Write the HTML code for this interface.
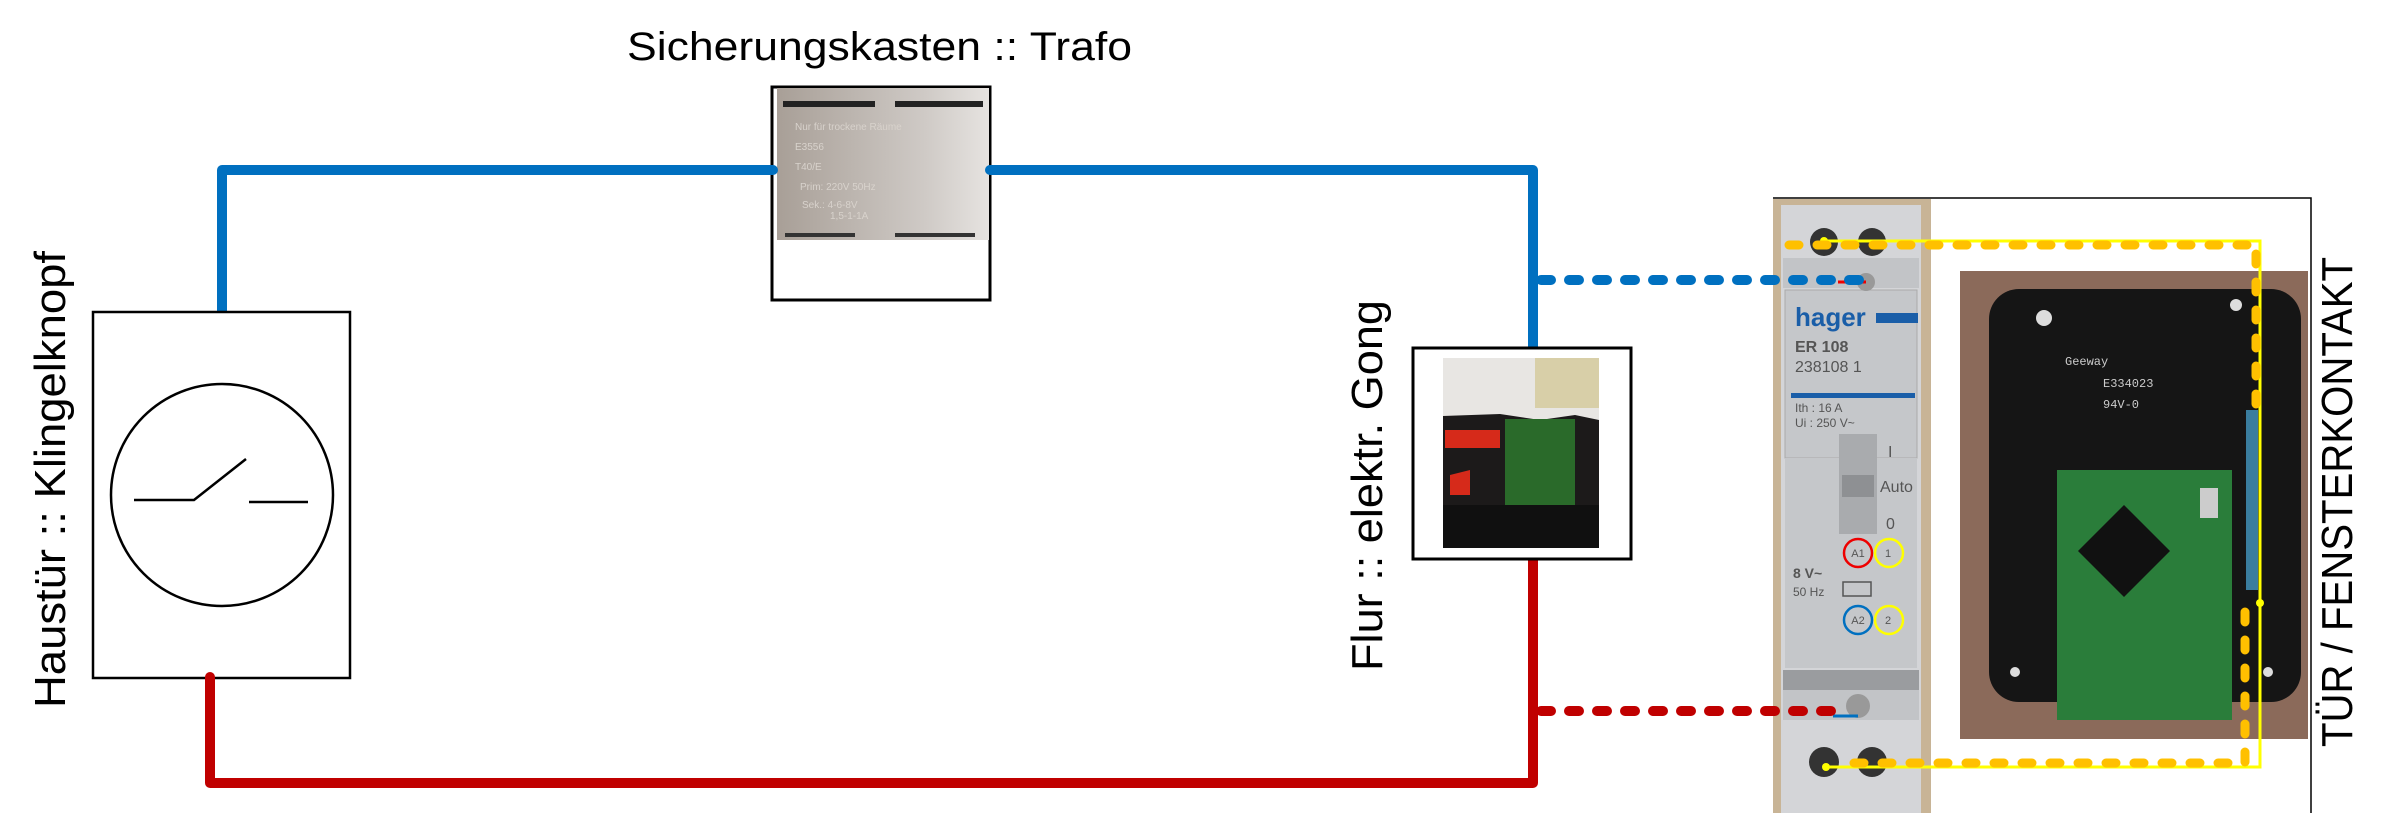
<!DOCTYPE html>
<html><head><meta charset="utf-8"><style>html,body{margin:0;padding:0;background:#fff}svg{display:block}</style></head>
<body>
<svg width="2388" height="813" viewBox="0 0 2388 813" xmlns="http://www.w3.org/2000/svg" font-family="Liberation Sans, DejaVu Sans, sans-serif">
<rect width="2388" height="813" fill="#fff"/>
<!-- Title -->
<text x="627" y="60" font-size="40" textLength="505" lengthAdjust="spacingAndGlyphs" fill="#000">Sicherungskasten :: Trafo</text>
<!-- Trafo box -->
<rect x="772" y="87" width="218" height="213" fill="#fff" stroke="#000" stroke-width="3"/>
<defs>
<linearGradient id="tg" x1="0" x2="1"><stop offset="0" stop-color="#a89f97"/><stop offset="0.7" stop-color="#cfcac6"/><stop offset="1" stop-color="#e6e3e0"/></linearGradient>
</defs>
<rect x="777" y="88" width="212" height="152" fill="url(#tg)"/>
<rect x="783" y="101" width="92" height="6" fill="#222"/><rect x="895" y="101" width="88" height="6" fill="#222"/>
<rect x="785" y="233" width="70" height="4" fill="#333"/><rect x="895" y="233" width="80" height="4" fill="#333"/>
<g fill="#d8d2cc" font-size="10"><text x="795" y="130">Nur für trockene Räume</text><text x="795" y="150">E3556</text><text x="795" y="170">T40/E</text><text x="800" y="190">Prim: 220V 50Hz</text><text x="802" y="208">Sek.: 4-6-8V</text><text x="830" y="219">1,5-1-1A</text></g>
<!-- Blue wire -->
<path d="M222 313 V170 H773 M990 170 H1533 V350" fill="none" stroke="#0070c0" stroke-width="10" stroke-linecap="round" stroke-linejoin="round"/>
<!-- Left box -->
<rect x="93" y="312" width="257" height="366" fill="#fff" stroke="#000" stroke-width="2.5"/>
<ellipse cx="222" cy="495" rx="111" ry="111" fill="none" stroke="#000" stroke-width="2.5"/>
<path d="M134 500 H194 L246 459 M249 502 H308" fill="none" stroke="#000" stroke-width="2.5"/>
<text transform="translate(65,708) rotate(-90)" font-size="44" textLength="457" lengthAdjust="spacingAndGlyphs" fill="#000">Haustür :: Klingelknopf</text>
<!-- Red wire -->
<path d="M210 677 V783 H1533 V560" fill="none" stroke="#c00000" stroke-width="10" stroke-linecap="round" stroke-linejoin="round"/>
<!-- Gong box -->
<rect x="1413" y="348" width="218" height="211" fill="#fff" stroke="#000" stroke-width="3"/>
<rect x="1443" y="358" width="156" height="190" fill="#1c1a1a"/>
<path d="M1443 358 H1599 V420 L1575 415 L1540 420 L1500 414 L1443 416 Z" fill="#e8e6e3"/>
<rect x="1535" y="358" width="64" height="50" fill="#d8cfa8"/>
<rect x="1445" y="430" width="55" height="18" fill="#d62a1a"/>
<path d="M1450 475 L1470 470 L1470 495 L1450 495 Z" fill="#d62a1a"/>
<rect x="1505" y="419" width="70" height="87" fill="#2a6a2a"/>
<rect x="1443" y="505" width="156" height="43" fill="#101010"/>
<text transform="translate(1382,671) rotate(-90)" font-size="44" textLength="371" lengthAdjust="spacingAndGlyphs" fill="#000">Flur :: elektr. Gong</text>
<!-- Frame -->
<path d="M1773 198 H2311 V813" fill="none" stroke="#000" stroke-width="1.5"/>
<!-- Relay -->
<rect x="1773" y="199" width="158" height="614" fill="#c8b496"/>
<rect x="1781" y="205" width="140" height="608" fill="#d4d5d8"/>
<rect x="1783" y="258" width="136" height="30" fill="#c2c4c7"/>
<rect x="1785" y="290" width="132" height="168" fill="#c5c7ca" stroke="#aaa"/>
<rect x="1785" y="458" width="132" height="210" fill="#c5c7ca"/>
<rect x="1783" y="670" width="136" height="20" fill="#9a9c9f"/>
<rect x="1783" y="690" width="136" height="30" fill="#c2c4c7"/>
<g fill="#333"><circle cx="1824" cy="242" r="14"/><circle cx="1872" cy="242" r="14"/><circle cx="1824" cy="762" r="15"/><circle cx="1872" cy="762" r="15"/></g>
<g fill="#999"><circle cx="1866" cy="282" r="9"/><circle cx="1858" cy="706" r="12"/></g>
<text x="1795" y="326" font-size="26" font-weight="bold" fill="#1a5ea8">hager</text>
<rect x="1876" y="313" width="42" height="10" fill="#1a5ea8"/>
<text x="1795" y="352" font-size="16" font-weight="bold" fill="#555">ER 108</text>
<text x="1795" y="372" font-size="16" fill="#555">238108 1</text>
<rect x="1791" y="393" width="124" height="5" fill="#1a5ea8"/>
<text x="1795" y="412" font-size="12" fill="#555">Ith : 16 A</text>
<text x="1795" y="427" font-size="12" fill="#555">Ui : 250 V~</text>
<rect x="1839" y="434" width="38" height="100" fill="#a9abae"/>
<rect x="1842" y="475" width="32" height="22" fill="#8e9093"/>
<text x="1888" y="457" font-size="16" fill="#555">I</text>
<text x="1880" y="492" font-size="16" fill="#555">Auto</text>
<text x="1886" y="529" font-size="16" fill="#555">0</text>
<text x="1793" y="578" font-size="14" font-weight="bold" fill="#555">8 V~</text>
<text x="1793" y="596" font-size="12" fill="#555">50 Hz</text>
<rect x="1843" y="582" width="28" height="14" fill="none" stroke="#555" stroke-width="1.5"/>
<g font-size="11" fill="#555" text-anchor="middle"><text x="1858" y="557">A1</text><text x="1888" y="557">1</text><text x="1858" y="624">A2</text><text x="1888" y="624">2</text></g>
<circle cx="1858" cy="553" r="14" fill="none" stroke="#e00" stroke-width="2.5"/>
<circle cx="1889" cy="553" r="14" fill="none" stroke="#ff0" stroke-width="2.5"/>
<circle cx="1858" cy="620" r="14" fill="none" stroke="#0070c0" stroke-width="2.5"/>
<circle cx="1889" cy="620" r="14" fill="none" stroke="#ff0" stroke-width="2.5"/>
<!-- PCB -->
<rect x="1960" y="271" width="348" height="468" fill="#8b6a5a"/>
<rect x="1989" y="289" width="312" height="413" rx="30" fill="#151515"/>
<rect x="2057" y="470" width="175" height="250" fill="#2a7d3a"/>
<path d="M2124 505 L2170 551 L2124 597 L2078 551 Z" fill="#111"/>
<rect x="2200" y="488" width="18" height="30" fill="#ccc"/>
<rect x="2246" y="410" width="12" height="180" fill="#3a7d9e"/>
<g fill="#ddd"><circle cx="2044" cy="318" r="8"/><circle cx="2236" cy="305" r="6"/><circle cx="2015" cy="672" r="5"/><circle cx="2268" cy="672" r="5"/></g>
<g fill="#ccc" font-size="12" font-family="Liberation Mono, monospace"><text x="2103" y="387">E334023</text><text x="2103" y="408">94V-0</text><text x="2065" y="365">Geeway</text></g>
<!-- Dotted wires -->
<line x1="1838" y1="282" x2="1866" y2="282" stroke="#e00" stroke-width="3"/>
<line x1="1833" y1="716" x2="1858" y2="716" stroke="#0070c0" stroke-width="3"/>
<line x1="1541" y1="280" x2="1859" y2="280" stroke="#0070c0" stroke-width="10" stroke-linecap="round" stroke-dasharray="10 18"/>
<line x1="1541" y1="711" x2="1836" y2="711" stroke="#c00000" stroke-width="10" stroke-linecap="round" stroke-dasharray="10 18"/>
<!-- Yellow -->
<path d="M1824 241 H2260 V767 H1826" fill="none" stroke="#ffff00" stroke-width="3"/>
<circle cx="1824" cy="241" r="4" fill="#ffff00"/><circle cx="1826" cy="767" r="4" fill="#ffff00"/><circle cx="2260" cy="603" r="4" fill="#ffff00"/>
<g fill="none" stroke="#ffc000" stroke-width="9" stroke-linecap="round" stroke-dasharray="10 18">
<path d="M1789 245 H2256 V405"/>
<path d="M2245 612 V763 H1850"/>
</g>
<text transform="translate(2352,747) rotate(-90)" font-size="44" textLength="490" lengthAdjust="spacingAndGlyphs" fill="#000">TÜR / FENSTERKONTAKT</text>
</svg>
</body></html>
